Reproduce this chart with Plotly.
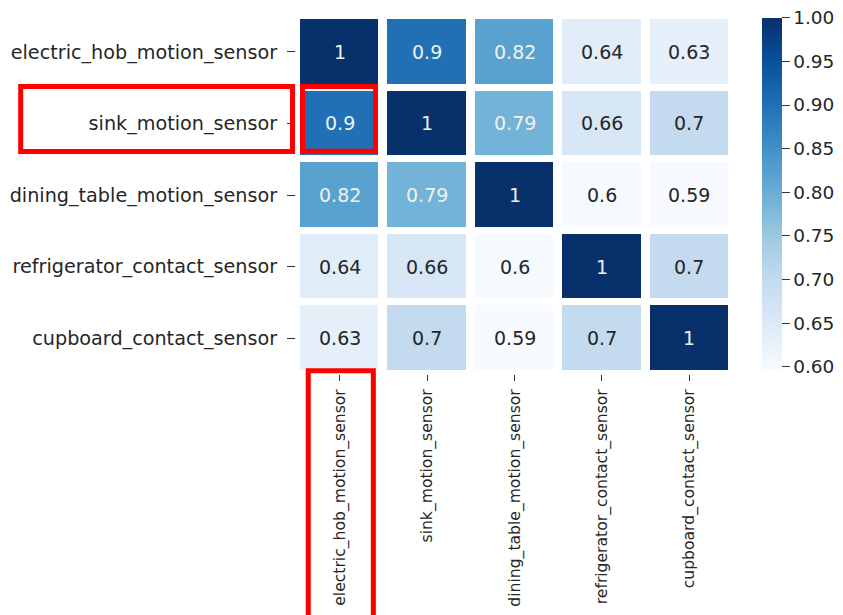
import plotly.graph_objects as go

sensors = [
    "electric_hob_motion_sensor",
    "sink_motion_sensor",
    "dining_table_motion_sensor",
    "refrigerator_contact_sensor",
    "cupboard_contact_sensor",
]
row_electric = [1.00, 0.90, 0.82, 0.64, 0.63]
row_sink = [0.90, 1.00, 0.79, 0.66, 0.70]
row_dining = [0.82, 0.79, 1.00, 0.60, 0.59]
row_fridge = [0.64, 0.66, 0.60, 1.00, 0.70]
row_cupboard = [0.63, 0.70, 0.59, 0.70, 1.00]
z = [row_electric, row_sink, row_dining, row_fridge, row_cupboard]
cbar_ticks = [0.60, 0.65, 0.70, 0.75, 0.80, 0.85, 0.90, 0.95, 1.00]

blues = ["#f7fbff", "#deebf7", "#c6dbef", "#9ecae1", "#6baed6",
         "#4292c6", "#2171b5", "#08519c", "#08306b"]
colorscale = [[i / (len(blues) - 1), c] for i, c in enumerate(blues)]

ZMIN, ZMAX = 0.5966, 1.0

fig = go.Figure(go.Heatmap(
    z=z, x=sensors, y=sensors,
    colorscale=colorscale, zmin=ZMIN, zmax=ZMAX,
    xgap=9, ygap=7, hoverinfo="skip",
    colorbar=dict(
        thickness=20, len=0.983, lenmode="fraction", y=0.5035, yanchor="middle",
        x=1.066, xanchor="left", xpad=0, ypad=0, outlinewidth=0,
        tickvals=cbar_ticks, tickformat=".2f", ticks="outside", ticklen=8,
        tickcolor="#333", tickfont=dict(family="DejaVu Sans", size=18.5, color="#262626"),
    ),
))

for i, row in enumerate(z):
    for j, v in enumerate(row):
        fig.add_annotation(
            x=sensors[j], y=sensors[i], text=f"{v:g}", showarrow=False,
            font=dict(family="DejaVu Sans", size=19,
                      color="#f0f0f0" if v > 0.75 else "#262626"),
        )

red = dict(color="#ff0000", width=5)
# box around the (sink, electric_hob) cell
fig.add_shape(type="rect", xref="x", yref="y", x0=-0.426, x1=0.41, y0=0.484, y1=1.39,
              line=red, fillcolor="rgba(0,0,0,0)")
# box around the sink label
fig.add_shape(type="rect", xref="paper", yref="paper", x0=-0.630, x1=-0.008,
              y0=0.6215, y1=0.803, line=red, fillcolor="rgba(0,0,0,0)")
# box around electric_hob x label
fig.add_shape(type="rect", xref="paper", yref="paper", x0=0.028, x1=0.177,
              y0=-0.72, y1=0.009, line=red, fillcolor="rgba(0,0,0,0)")

fig.update_xaxes(
    tickangle=-90, ticks="outside", ticklen=6, tickcolor="#333",
    ticklabelstandoff=2,
    tickfont=dict(family="DejaVu Sans", size=15.6, color="#262626"),
    showgrid=False, zeroline=False, showline=False, automargin=False,
)
fig.update_yaxes(
    autorange="reversed", ticks="outside", ticklen=8, tickcolor="#333",
    ticklabelstandoff=6,
    tickfont=dict(family="DejaVu Sans", size=19.2, color="#262626"),
    showgrid=False, zeroline=False, showline=False, automargin=False,
)
fig.update_layout(
    width=843, height=615,
    margin=dict(l=296, r=110, t=16, b=241, autoexpand=False),
    paper_bgcolor="white", plot_bgcolor="white",
)
fig.write_html("out.html", config={"displayModeBar": False},
               post_script="document.body.style.margin='0px';")
